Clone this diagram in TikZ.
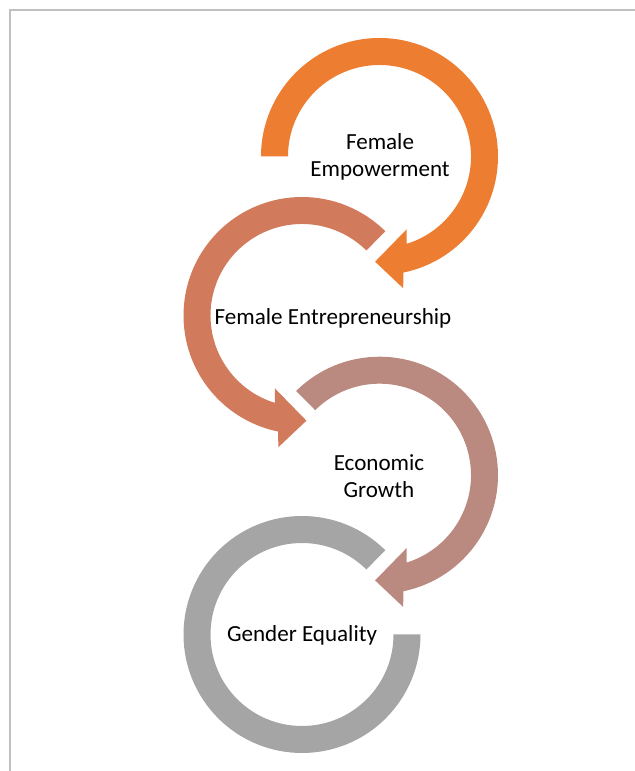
\documentclass[tikz,border=0pt]{standalone}
\usepackage{fontspec}
\setmainfont{Carlito}
\definecolor{ringA}{HTML}{ED7D31}
\definecolor{ringB}{HTML}{D27B5C}
\definecolor{ringC}{HTML}{BA8A80}
\definecolor{ringD}{HTML}{A5A5A5}
\definecolor{framegray}{HTML}{C0C0C0}
\begin{document}
\begin{tikzpicture}[x=0.75pt,y=0.75pt,
  lbl/.style={align=center,font=\fontsize{17.3pt}{20.3pt}\selectfont,text=black,inner sep=0pt},
  ring/.style={draw=none}]
\useasboundingbox (0,0) rectangle (635,771);
% frame
\draw[framegray,line width=1.1pt] (10,0) -- (10,761) -- (635,761);
% centres
\coordinate (c1) at (379.5,614.5);
\coordinate (c2) at (302,455.5);
\coordinate (c3) at (379.5,295.8);
\coordinate (c4) at (302,136.5);
% ring 1 (clockwise arrow)
\fill[ringA] ([shift={(180:118.5)}]c1) arc[start angle=180,end angle=-78.4,radius=118.5]
  -- ([shift={(-79.8:133.9)}]c1) -- ([shift={(-92.4:105.3)}]c1)
  -- ([shift={(-69.5:77.7)}]c1) -- ([shift={(-72.8:91.5)}]c1)
  arc[start angle=-72.8,end angle=180,radius=91.5] -- cycle;
% ring 2 (counter-clockwise arrow)
\fill[ringB] ([shift={(45.3:118.5)}]c2) arc[start angle=45.3,end angle=258.4,radius=118.5]
  -- ([shift={(259.8:133.9)}]c2) -- ([shift={(272.4:105.3)}]c2)
  -- ([shift={(249.5:77.7)}]c2) -- ([shift={(252.8:91.5)}]c2)
  arc[start angle=252.8,end angle=45.3,radius=91.5] -- cycle;
% ring 3 (clockwise arrow)
\fill[ringC] ([shift={(134.7:118.5)}]c3) arc[start angle=134.7,end angle=-78.4,radius=118.5]
  -- ([shift={(-79.8:133.9)}]c3) -- ([shift={(-92.4:105.3)}]c3)
  -- ([shift={(-69.5:77.7)}]c3) -- ([shift={(-72.8:91.5)}]c3)
  arc[start angle=-72.8,end angle=134.7,radius=91.5] -- cycle;
% ring 4 (open ring, no head)
\fill[ringD] ([shift={(45.3:118.5)}]c4) arc[start angle=45.3,end angle=360,radius=118.5]
  -- ([shift={(0:91.5)}]c4)
  arc[start angle=360,end angle=45.3,radius=91.5] -- cycle;
% labels
\node[lbl] (t1) at (380,614) {Female\\Empowerment};
\node[lbl] (t2) at (333,453) {Female Entrepreneurship};
\node[lbl] (t3) at (379,295) {Economic\\Growth};
\node[lbl] (t4) at (302,136) {Gender Equality};
\end{tikzpicture}
\end{document}
